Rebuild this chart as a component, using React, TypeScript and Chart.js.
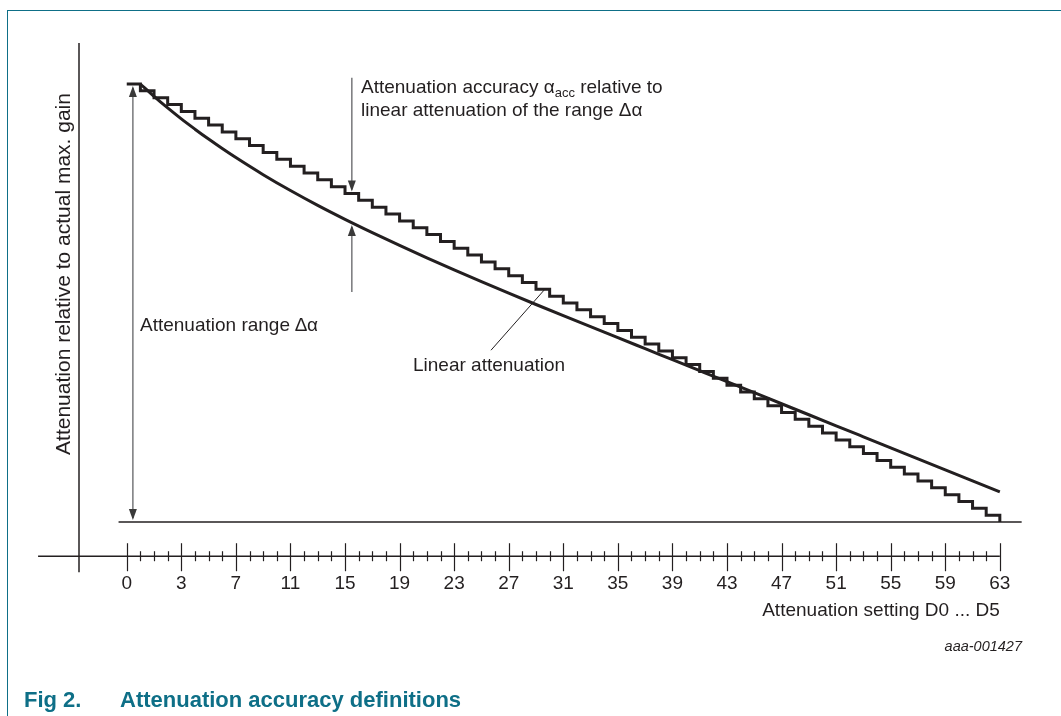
import React, { useEffect, useRef } from 'react';
import { Chart, registerables } from 'chart.js';

Chart.register(...registerables);

// ---- Data ----
// Staircase: attenuation setting (x) and step level (in LSB steps, 0 = max gain)
const stairSettings = [0, 1, 2, 3, 4, 5, 6, 7, 8, 9, 10, 11, 12, 13, 14, 15, 16, 17, 18, 19, 20, 21, 22, 23, 24, 25, 26, 27, 28, 29, 30, 31, 32, 33, 34, 35, 36, 37, 38, 39, 40, 41, 42, 43, 44, 45, 46, 47, 48, 49, 50, 51, 52, 53, 54, 55, 56, 57, 58, 59, 60, 61, 62, 63, 64];
const stairLevels = [0, 1, 2, 3, 4, 5, 6, 7, 8, 9, 10, 11, 12, 13, 14, 15, 16, 17, 18, 19, 20, 21, 22, 23, 24, 25, 26, 27, 28, 29, 30, 31, 32, 33, 34, 35, 36, 37, 38, 39, 40, 41, 42, 43, 44, 45, 46, 47, 48, 49, 50, 51, 52, 53, 54, 55, 56, 57, 58, 59, 60, 61, 62, 63, 64];

// "Linear attenuation" curve
const curveSettings = [1, 2, 3, 4, 5, 6, 7, 8, 10, 12, 14, 16, 18, 20, 22, 24, 26, 28, 30, 32, 34, 36, 38, 40, 42, 44, 46, 48, 50, 52, 54, 56, 58, 60, 62, 64];
const curveLevels = [0, 1.8, 3.5, 5.1, 6.6, 8.05, 9.43, 10.75, 13.25, 15.57, 17.74, 19.78, 21.72, 23.59, 25.4, 27.17, 28.89, 30.57, 32.22, 33.85, 35.46, 37.06, 38.67, 40.28, 41.89, 43.5, 45.11, 46.72, 48.33, 49.94, 51.55, 53.16, 54.77, 56.38, 57.99, 59.6];

// Axis tick labels (major tick every 4 minor ticks)
const tickPositions = [0, 4, 8, 12, 16, 20, 24, 28, 32, 36, 40, 44, 48, 52, 56, 60, 64];
const tickLabels = ['0', '3', '7', '11', '15', '19', '23', '27', '31', '35', '39', '43', '47', '51', '55', '59', '63'];

const INK = '#231f20';
const GREY = '#6d6e71';
const TEAL = '#0e6f87';
const FONT = '"Liberation Sans", Arial, Helvetica, sans-serif';

const decorPlugin = {
  id: 'decor',
  afterDatasetsDraw(chart: any) {
    const { ctx, chartArea, scales } = chart;
    const xs = scales.x;
    const ys = scales.y;
    const px = (v: number) => xs.getPixelForValue(v);
    const py = (v: number) => ys.getPixelForValue(v);
    const seg = (x1: number, y1: number, x2: number, y2: number) => {
      ctx.beginPath();
      ctx.moveTo(x1, y1);
      ctx.lineTo(x2, y2);
      ctx.stroke();
    };
    const head = (x: number, tip: number, dir: number) => {
      // dir = 1 : pointing down, -1 : pointing up
      ctx.beginPath();
      ctx.moveTo(x, tip);
      ctx.lineTo(x - 4, tip - dir * 11);
      ctx.lineTo(x + 4, tip - dir * 11);
      ctx.closePath();
      ctx.fill();
    };
    ctx.save();
    // baseline at full attenuation
    ctx.strokeStyle = INK;
    ctx.lineWidth = 1.3;
    seg(px(-0.6), py(64), px(65.6), py(64));

    // axes
    const axisY = py(69);
    ctx.lineWidth = 1.5;
    seg(chartArea.left, py(-6), chartArea.left, axisY + 16);
    seg(px(-6.5), axisY, px(64), axisY);
    ctx.lineWidth = 1.2;
    for (let v = 0; v <= 64; v++) {
      const major = v % 4 === 0;
      const x = Math.round(px(v)) + 0.5;
      if (major) seg(x, axisY - 13, x, axisY + 15);
      else seg(x, axisY - 5, x, axisY + 5);
    }

    // Attenuation range arrow
    ctx.strokeStyle = GREY;
    ctx.fillStyle = '#3a3a3a';
    ctx.lineWidth = 1.4;
    const xr = px(0.45);
    seg(xr, py(0) + 4, xr, py(64) - 4);
    head(xr, py(0) + 2, -1);
    head(xr, py(64) - 2, 1);

    // Accuracy arrows
    const xa = px(16.5);
    seg(xa, py(-0.9), xa, py(16) - 4);
    head(xa, py(16) - 2, 1);
    seg(xa, py(30.4), xa, py(20.3) + 4);
    head(xa, py(20.3) + 2, -1);

    // Leader for "Linear attenuation"
    ctx.strokeStyle = INK;
    ctx.lineWidth = 1;
    seg(px(26.7), py(38.9), px(30.6), py(30.1));
    ctx.restore();
  },
};

export default function App() {
  const canvasRef = useRef<HTMLCanvasElement | null>(null);

  useEffect(() => {
    if (!canvasRef.current) return;
    Chart.defaults.font.family = FONT;
    const chart = new Chart(canvasRef.current, {
      type: 'line',
      data: {
        datasets: [
          {
            label: 'Attenuation steps',
            data: stairSettings.map((s, i) => ({ x: s, y: stairLevels[i] })),
            stepped: 'before',
            borderColor: INK,
            borderWidth: 3,
            pointRadius: 0,
            fill: false,
            clip: false as any,
          },
          {
            label: 'Linear attenuation',
            data: curveSettings.map((s, i) => ({ x: s, y: curveLevels[i] })),
            borderColor: INK,
            borderWidth: 3,
            pointRadius: 0,
            fill: false,
            cubicInterpolationMode: 'monotone',
            clip: false as any,
          },
        ],
      },
      options: {
        animation: false,
        responsive: false,
        events: [],
        layout: { padding: { left: 51.8, right: 60, top: 26, bottom: 93.6 } },
        plugins: { legend: { display: false }, tooltip: { enabled: false } },
        scales: {
          x: {
            type: 'linear',
            min: -3.5,
            max: 64,
            grid: { display: false, drawTicks: false, tickLength: 0 },
            border: { display: false },
            afterBuildTicks: (scale: any) => {
              scale.ticks = tickPositions.map((v) => ({ value: v }));
            },
            ticks: {
              autoSkip: false,
              maxRotation: 0,
              padding: 50.6,
              color: INK,
              font: { size: 19, family: FONT },
              callback: (value: any) => {
                const i = tickPositions.indexOf(Number(value));
                return i >= 0 ? tickLabels[i] : '';
              },
            },
            title: {
              display: true,
              text: 'Attenuation setting D0 ... D5',
              align: 'end',
              color: INK,
              font: { size: 19, family: FONT },
              padding: { top: -46.4, bottom: 0 },
            },
          },
          y: {
            type: 'linear',
            reverse: true,
            min: -8.475,
            max: 64,
            grid: { display: false, drawTicks: false, tickLength: 0 },
            border: { display: false },
            ticks: { display: false },
            title: {
              display: true,
              text: 'Attenuation relative to actual max. gain',
              color: INK,
              font: { size: 21, family: FONT },
              padding: { top: 0, bottom: 2 },
            },
          },
        },
      },
      plugins: [decorPlugin],
    } as any);
    return () => chart.destroy();
  }, []);

  const txt: React.CSSProperties = {
    position: 'absolute',
    fontFamily: FONT,
    fontSize: 19,
    lineHeight: '19px',
    color: INK,
    whiteSpace: 'nowrap',
  };

  return (
    <div style={{ position: 'absolute', left: 0, top: 0, width: 1061, height: 716, background: '#fff', overflow: 'hidden' }}>
      <div style={{ position: 'absolute', left: 7, top: 10, right: 0, bottom: 0, borderTop: `1.5px solid ${TEAL}`, borderLeft: `1.5px solid ${TEAL}` }} />
      <canvas ref={canvasRef} width={1061} height={716} style={{ position: 'absolute', left: 0, top: 0, width: 1061, height: 716 }} />
      <div style={{ ...txt, left: 361, top: 76, lineHeight: '21px' }}>
        Attenuation accuracy α
        <span style={{ fontSize: 13, position: 'relative', top: 4 }}>acc</span> relative to
        <br />
        linear attenuation of the range Δα
      </div>
      <div style={{ ...txt, left: 140, top: 315 }}>Attenuation range ∆α</div>
      <div style={{ ...txt, left: 413, top: 355 }}>Linear attenuation</div>
      <div style={{ ...txt, right: 39, top: 639, fontSize: 14.5, lineHeight: '14.5px', fontStyle: 'italic' }}>aaa-001427</div>
      <div style={{ ...txt, left: 24, top: 689, fontSize: 22, lineHeight: '22px', fontWeight: 'bold', color: TEAL }}>Fig 2.</div>
      <div style={{ ...txt, left: 120, top: 689, fontSize: 22, lineHeight: '22px', fontWeight: 'bold', color: TEAL }}>Attenuation accuracy definitions</div>
    </div>
  );
}
